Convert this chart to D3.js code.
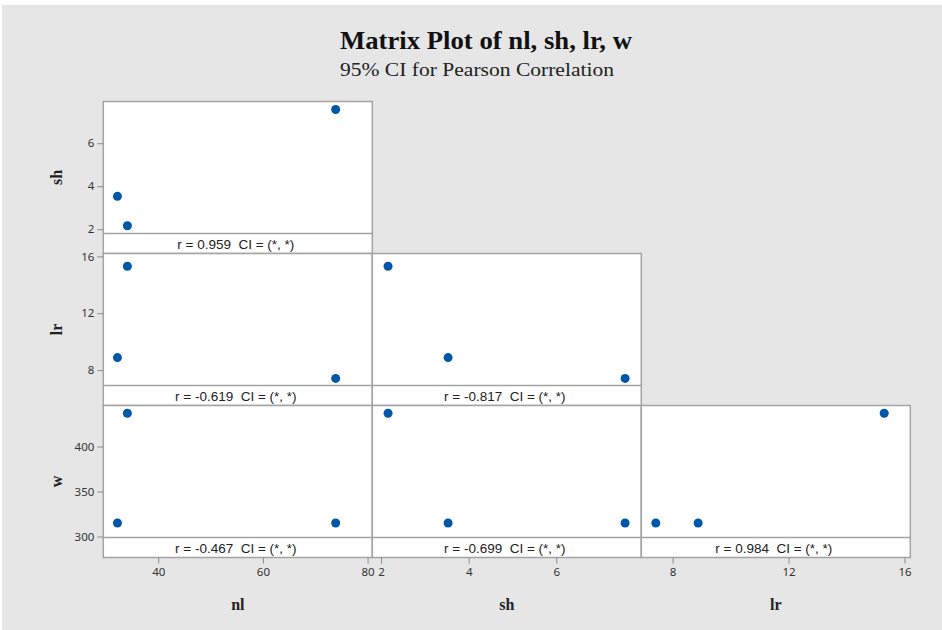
<!DOCTYPE html>
<html lang="en">
<head>
    <meta charset="UTF-8">
    <title>Matrix Plot of nl, sh, lr, w</title>
    <script src="https://d3js.org/d3.v7.min.js"></script>
    <style>
        body { margin: 0; background: #e6e6e6; overflow: hidden; }
        svg { display: block; }
        .tick text { font-family: "Noto Sans", sans-serif; font-size: 11.5px; fill: #333; }
        .tick line { stroke: #8c8c8c; }
        .domain { display: none; }
        .strip-label { font-family: "Liberation Sans", sans-serif; font-size: 13.5px; fill: #222; white-space: pre; }
        .var-label { font-family: "Liberation Serif", serif; font-size: 16px; font-weight: bold; fill: #222; }
    </style>
</head>
<body>
    <div id="chart"></div>

    <script>
        // Values
        const varNames = ["nl", "sh", "lr", "w"];
        const nl = [32.2, 34.1, 73.9];
        const sh = [3.53, 2.16, 7.57];
        const lr = [8.88, 15.3, 7.42];
        const w = [315, 437, 315];

        // axis ranges and ticks for each variable
        const nlDomain = [29.5, 80.9];
        const shDomain = [1.8, 7.94];
        const lrDomain = [6.92, 16.2];
        const wDomain = [298.9, 445.6];
        const nlTicks = [40, 60, 80];
        const shTicks = [2, 4, 6];
        const lrTicks = [8, 12, 16];
        const wTicks = [300, 350, 400];

        // correlation labels, lower triangle, row by row
        const rLabels = ["0.959", "-0.619", "-0.817", "-0.467", "-0.699", "0.984"];

        const values = [nl, sh, lr, w];
        const domains = [nlDomain, shDomain, lrDomain, wDomain];
        const ticks = [nlTicks, shTicks, lrTicks, wTicks];

        // Set up dimensions
        const width = 942;
        const height = 630;
        const gridLeft = 103.3;
        const gridTop = 101.5;
        const colW = 269;
        const rowH = 152;
        const stripH = 20;
        const border = "#a3a3a3";

        const svg = d3.select("#chart")
            .append("svg")
            .attr("width", width)
            .attr("height", height);

        // white frame at top/left, gray background elsewhere
        svg.append("rect")
            .attr("width", width).attr("height", height)
            .attr("fill", "#ffffff");
        svg.append("rect")
            .attr("x", 2).attr("y", 5)
            .attr("width", width + 10).attr("height", height + 10)
            .attr("fill", "#e6e6e6");

        // Titles
        svg.append("text")
            .attr("x", 486).attr("y", 49)
            .attr("text-anchor", "middle")
            .attr("textLength", 292)
            .attr("lengthAdjust", "spacingAndGlyphs")
            .style("font-family", "Liberation Serif, serif")
            .style("font-size", "25px")
            .style("font-weight", "bold")
            .style("fill", "#111")
            .text("Matrix Plot of nl, sh, lr, w");

        svg.append("text")
            .attr("x", 477).attr("y", 76)
            .attr("text-anchor", "middle")
            .attr("textLength", 274)
            .attr("lengthAdjust", "spacingAndGlyphs")
            .style("font-family", "Liberation Serif, serif")
            .style("font-size", "19px")
            .style("fill", "#222")
            .text("95% CI for Pearson Correlation");

        let k = 0;
        for (let i = 1; i < varNames.length; i++) {
            for (let j = 0; j < i; j++) {
                const x0 = gridLeft + j * colW;
                const y0 = gridTop + (i - 1) * rowH;
                const plotBottom = y0 + rowH - stripH;

                const xScale = d3.scaleLinear().domain(domains[j]).range([x0, x0 + colW]);
                const yScale = d3.scaleLinear().domain(domains[i]).range([plotBottom, y0]);

                const g = svg.append("g");

                g.append("rect")
                    .attr("x", x0).attr("y", y0)
                    .attr("width", colW).attr("height", rowH)
                    .attr("fill", "#ffffff")
                    .attr("stroke", border)
                    .attr("stroke-width", 1.5);

                g.append("line")
                    .attr("x1", x0).attr("x2", x0 + colW)
                    .attr("y1", plotBottom).attr("y2", plotBottom)
                    .attr("stroke", border)
                    .attr("stroke-width", 1.5);

                g.append("text")
                    .attr("class", "strip-label")
                    .attr("x", x0 + colW / 2 - 2)
                    .attr("y", plotBottom + stripH / 2 + 5)
                    .attr("text-anchor", "middle")
                    .text(`r = ${rLabels[k]}  CI = (*, *)`);

                g.selectAll("circle")
                    .data(values[j].map((v, n) => [v, values[i][n]]))
                    .enter()
                    .append("circle")
                    .attr("cx", d => xScale(d[0]))
                    .attr("cy", d => yScale(d[1]))
                    .attr("r", 4.5)
                    .attr("fill", "#0056a8");

                // left axis on first column
                if (j === 0) {
                    svg.append("g")
                        .attr("transform", `translate(${x0},0)`)
                        .call(d3.axisLeft(yScale).tickValues(ticks[i]).tickFormat(d3.format("d"))
                            .tickSize(6).tickPadding(3));

                    svg.append("text")
                        .attr("class", "var-label")
                        .attr("transform", `translate(62,${y0 + rowH / 2}) rotate(-90)`)
                        .attr("text-anchor", "middle")
                        .text(varNames[i]);
                }

                // bottom axis on last row
                if (i === varNames.length - 1) {
                    svg.append("g")
                        .attr("transform", `translate(0,${y0 + rowH})`)
                        .call(d3.axisBottom(xScale).tickValues(ticks[j]).tickFormat(d3.format("d"))
                            .tickSize(6).tickPadding(4));

                    svg.append("text")
                        .attr("class", "var-label")
                        .attr("x", x0 + colW / 2)
                        .attr("y", 610)
                        .attr("text-anchor", "middle")
                        .text(varNames[j]);
                }
                k++;
            }
        }
    </script>
</body>
</html>
